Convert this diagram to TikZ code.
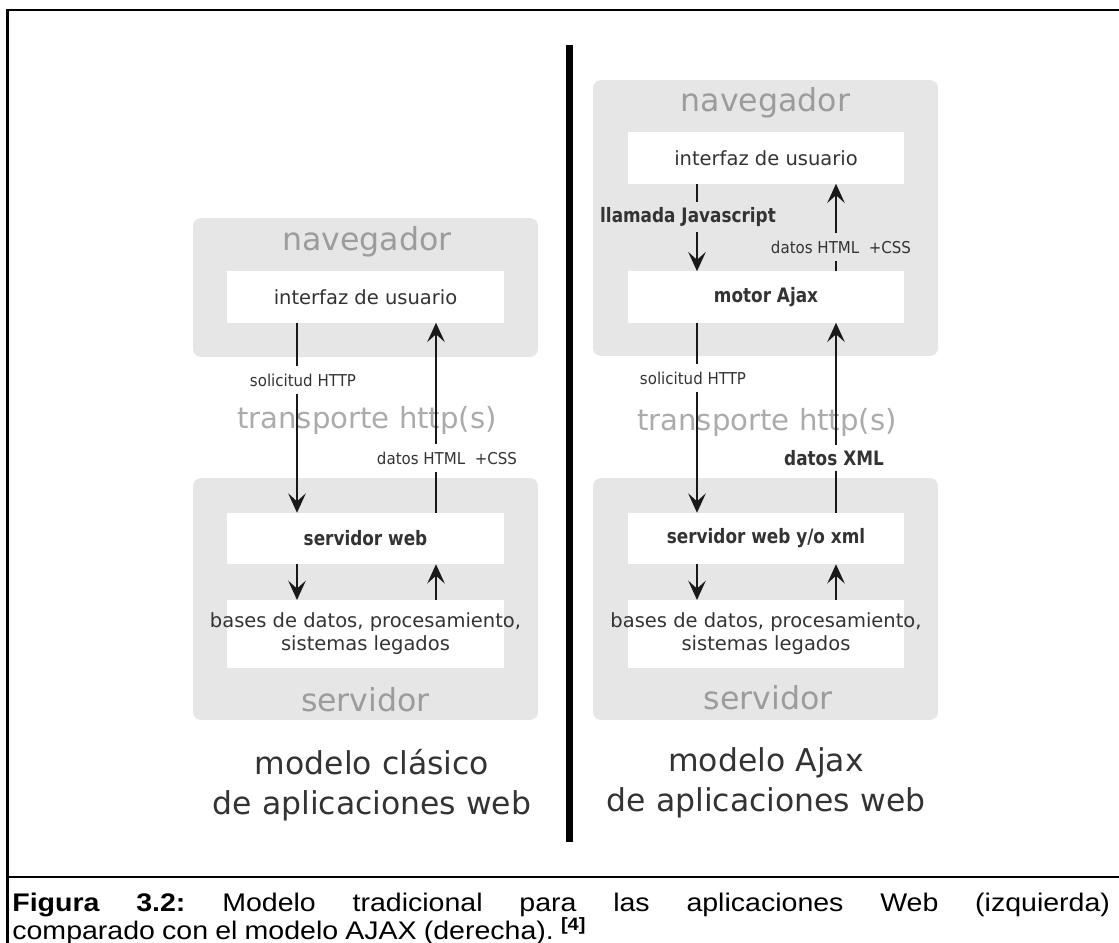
\documentclass[tikz,border=0pt]{standalone}
\usepackage{fontspec}
\usetikzlibrary{arrows.meta}
\newfontfamily\vera{DejaVu Sans}
\newfontfamily\verac[FakeStretch=0.92]{DejaVu Sans}
\newfontfamily\verab[FakeStretch=0.85]{DejaVu Sans}
\newfontfamily\arialf[FakeStretch=1.12]{Liberation Sans}
\definecolor{boxgray}{HTML}{E6E6E6}
\definecolor{headgray}{HTML}{9C9C9C}
\definecolor{darktxt}{HTML}{333333}

\begin{document}
\begin{tikzpicture}[x=0.02cm,y=-0.02cm,
    area/.style={fill=boxgray,rounded corners=4.5pt,minimum width=6.9cm,inner sep=0pt,outer sep=0pt},
    panel/.style={fill=white,minimum width=5.54cm,minimum height=1.03cm,inner sep=0pt,outer sep=0pt,
      text=darktxt,font=\vera\fontsize{11.1}{13}\selectfont},
    paneltxt/.style={text=darktxt,align=center,font=\vera\fontsize{11.1}{13}\selectfont},
    strong/.style={font=\verab\bfseries\fontsize{11.3}{13}\selectfont},
    head/.style={text=headgray,font=\vera\fontsize{18}{20}\selectfont},
    transp/.style={text=headgray!85,font=\vera\fontsize{16.6}{19}\selectfont},
    small/.style={text=darktxt,inner sep=4pt,font=\verac\fontsize{9.3}{11}\selectfont},
    boldlab/.style={text=darktxt,inner sep=3pt,font=\verab\bfseries\fontsize{11.3}{13}\selectfont},
    model/.style={text=darktxt,align=center,font=\vera\fontsize{17.9}{22.7}\selectfont},
    flow/.style={line width=1.2pt,draw=black!90},
    flowtip/.style={flow,-{Stealth[length=11pt,width=10pt,inset=4.5pt]}}]

  \useasboundingbox (0,0) rectangle (1119,943);
  \clip (0,0) rectangle (1119,943);

  % frame and caption rule
  \draw[line width=1.4pt] (7.5,10) rectangle (1140,1000);
  \draw[line width=1.4pt] (7.5,877) -- (1140,877);
  % divider
  \draw[line width=4pt] (569.5,45) -- (569.5,842);

  % classic model
  \node[area,minimum height=2.78cm] (nav1) at (365.5,287.5) {};
  \node[area,minimum height=4.84cm] (srv1) at (365.5,599) {};
  \node[head] (navt1) at (367,242) {navegador};
  \node[head] (srvt1) at (365.5,700) {servidor};
  \node[panel] (ui1) at (365.5,297) {interfaz de usuario};
  \node[panel,strong] (web1) at (365.5,538.5) {servidor web};
  \node[panel,minimum height=1.36cm,
    label={[paneltxt]center:{bases de datos, procesamiento,\\sistemas legados}}] (db1) at (365.5,634) {};
  \node[transp] (tr1) at (367,420) {transporte http(s)};
  \node[small] (req1) at (303,380) {solicitud HTTP};
  \node[small] (res1) at (447,458) {datos HTML\ \ +CSS};
  \coordinate (a1) at (297,0);
  \coordinate (b1) at (436,0);
  \draw[flow] (ui1.south -| a1) -- (req1.north -| a1);
  \draw[flowtip] (req1.south -| a1) -- (web1.north -| a1);
  \draw[flow] (web1.north -| b1) -- (res1.south -| b1);
  \draw[flowtip] (res1.north -| b1) -- (ui1.south -| b1);
  \draw[flowtip] (web1.south -| a1) -- (db1.north -| a1);
  \draw[flowtip] (db1.north -| b1) -- (web1.south -| b1);
  \node[model] (cap1) at (372,785) {modelo clásico\\de aplicaciones web};

  % ajax model
  \node[area,minimum height=5.52cm] (nav2) at (765.5,218) {};
  \node[area,minimum height=4.84cm] (srv2) at (765.5,599) {};
  \node[head] (navt2) at (765.5,103) {navegador};
  \node[head] (srvt2) at (768,698) {servidor};
  \node[panel] (ui2) at (766,158) {interfaz de usuario};
  \node[panel,strong] (eng2) at (766,297) {motor Ajax};
  \node[panel,strong] (web2) at (766,538.5) {servidor web y/o xml};
  \node[panel,minimum height=1.36cm,
    label={[paneltxt]center:{bases de datos, procesamiento,\\sistemas legados}}] (db2) at (766,634) {};
  \node[transp] (tr2) at (767,422) {transporte http(s)};
  \node[boldlab] (js2) at (688,217) {llamada Javascript};
  \node[small] (res2) at (841,247) {datos HTML\ \ +CSS};
  \node[small] (req2) at (693,378) {solicitud HTTP};
  \node[boldlab] (xml2) at (834,458) {datos XML};
  \coordinate (a2) at (697,0);
  \coordinate (b2) at (836,0);
  \draw[flow] (ui2.south -| a2) -- (js2.north -| a2);
  \draw[flowtip] (js2.south -| a2) -- (eng2.north -| a2);
  \draw[flow] (eng2.north -| b2) -- (res2.south -| b2);
  \draw[flowtip] (res2.north -| b2) -- (ui2.south -| b2);
  \draw[flow] (eng2.south -| a2) -- (req2.north -| a2);
  \draw[flowtip] (req2.south -| a2) -- (web2.north -| a2);
  \draw[flow] (web2.north -| b2) -- (xml2.south -| b2);
  \draw[flowtip] (xml2.north -| b2) -- (eng2.south -| b2);
  \draw[flowtip] (web2.south -| a2) -- (db2.north -| a2);
  \draw[flowtip] (db2.north -| b2) -- (web2.south -| b2);
  \node[model] (cap2) at (766,783) {modelo Ajax\\de aplicaciones web};

  % caption
  \node[anchor=north west,inner sep=0pt,text width=21.96cm,align=justify,
    font=\arialf\fontsize{14.5}{15.9}\selectfont] (fig) at (12,893)
    {\frenchspacing\spaceskip=.28em plus 5em minus .05em\relax\hyphenpenalty=10000
     \textbf{Figura 3.2:} Modelo tradicional para las aplicaciones Web (izquierda)\linebreak
     comparado con el modelo AJAX (derecha). \textsuperscript{\textbf{[4]}}};
\end{tikzpicture}
\end{document}
